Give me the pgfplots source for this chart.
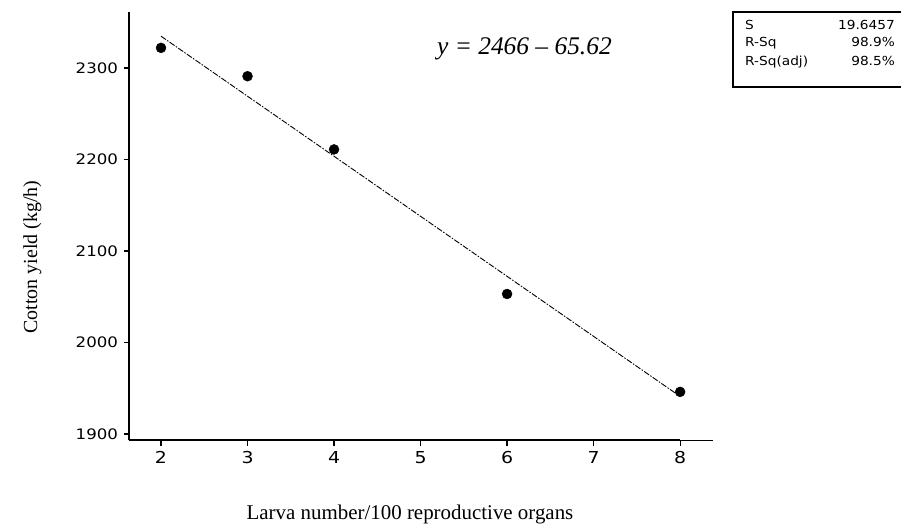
\documentclass[border=0pt]{standalone}
\usepackage{pgfplots}
\pgfplotsset{compat=1.18}
\usepackage{fontspec}
\setmainfont{Liberation Serif}
\newfontfamily\tickfont[FakeStretch=1.15]{DejaVu Sans}
\newfontfamily\boxfont[FakeStretch=1.1]{DejaVu Sans}
\begin{document}
\begin{tikzpicture}
\useasboundingbox (0,0) rectangle (901bp,525bp);
\begin{axis}[
  at={(129bp,85bp)}, anchor=south west,
  scale only axis, width=584bp, height=428bp,
  xmin=1.63, xmax=8.38, ymin=1893.4, ymax=2361.2,
  clip=false,
  axis lines=left,
  axis line style={-, line width=1.6bp},
  x axis line style={-, line width=1.6bp, shorten >=33bp},
  xtick={2,3,4,5,6,7,8},
  ytick={1900,2000,2100,2200,2300},
  major tick length=5.5bp,
  tick align=outside,
  major tick style={line width=1.2bp, black},
  /pgf/number format/assume math mode=true,
  /pgf/number format/1000 sep={},
  yticklabel style={font=\tickfont\fontsize{14.5}{14.5}\selectfont, xshift=-2bp},
  xticklabel style={font=\tickfont\fontsize{16.5}{16.5}\selectfont, yshift=-2bp},
]
\addplot[black, line width=0.9bp, dash pattern=on 6bp off 1.5bp on 1.5bp off 1.5bp]
  coordinates {(2,2334.76) (8,1941.04)};
\addplot[only marks, mark=*, mark size=5bp, black]
  coordinates {(2,2322) (3,2291) (4,2211) (6,2053) (8,1946)};
\draw[line width=0.8bp] (axis cs:8,1893.4) -- (axis cs:8.38,1893.4);
\end{axis}
\node[anchor=base, font=\fontsize{21}{21}\selectfont] at (410bp,6bp) {Larva number/100 reproductive organs};
\node[anchor=base, rotate=90, font=\fontsize{20}{20}\selectfont] at (37bp,268bp) {Cotton yield (kg/h)};
\node[anchor=base west, inner sep=0pt, font=\fontsize{25.5}{25.5}\selectfont\itshape] at (437bp,470bp) {y = 2466 \textendash{} 65.62};
\draw[line width=1.3bp] (733bp,438bp) rectangle (915bp,513bp);
\begin{scope}[every node/.style={inner sep=0pt, font=\boxfont\fontsize{12.5}{12.5}\selectfont}]
\node[anchor=base west] at (745bp,495bp) {S};
\node[anchor=base west] at (745bp,478bp) {R-Sq};
\node[anchor=base west] at (745bp,459bp) {R-Sq(adj)};
\node[anchor=base east] at (895bp,495bp) {19.6457};
\node[anchor=base east] at (895bp,478bp) {98.9\%};
\node[anchor=base east] at (895bp,459bp) {98.5\%};
\end{scope}
\end{tikzpicture}
\end{document}
